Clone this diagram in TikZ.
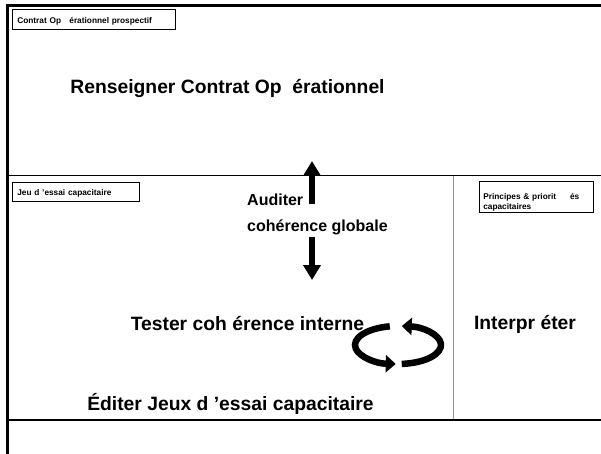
\documentclass[tikz,border=0pt]{standalone}
\usepackage{fontspec}
\setmainfont{Liberation Sans}
\usetikzlibrary{arrows.meta}
\tikzset{
  frameline/.style={line width=2.2pt, line cap=rect},
  thinline/.style={line width=1.3pt},
  grayline/.style={line width=1.8pt, draw=gray!85},
  tagbox/.style={draw=black, line width=0.6pt, inner sep=0pt, anchor=north west, font=\fontsize{8.3}{9.3}\selectfont\bfseries, align=left, text depth=0pt},
  bigtext/.style={font=\fontsize{19.3}{22}\selectfont\bfseries, inner sep=0pt},
  midtext/.style={font=\fontsize{16}{26}\selectfont\bfseries, inner sep=0pt, align=left},
  blockarrow/.style={line width=6pt, -{Triangle[length=15pt,width=17pt]}},
  cyclearrow/.style={line width=6.5pt, -{Triangle[length=10pt,width=17pt]}}
}
\begin{document}
\begin{tikzpicture}[x=1pt,y=-1pt]
\useasboundingbox (0,0) rectangle (601,454);
% frame
\coordinate (tl) at (7.5,5.5);
\coordinate (tr) at (601,5.5);
\coordinate (bl) at (7.5,454);
\coordinate (ml) at (7.5,175.5);
\coordinate (mr) at (601,175.5);
\coordinate (ll) at (7.5,420);
\coordinate (lr) at (601,420);
\coordinate (gt) at (453.5,175.5);
\coordinate (gb) at (453.5,420);
\draw[grayline] (gt) -- (gb);
\draw[thinline] (ml) -- (mr);
\draw[thinline] (ll) -- (lr);
\draw[frameline] (tr) -- (tl) -- (bl);
% tag boxes
\node[tagbox, minimum width=163pt, minimum height=20pt, text width=153pt, inner xsep=5pt] (tagA) at (12,9.5) {\strut Contrat Op\ \ \ érationnel prospectif};
\node[tagbox, minimum width=127pt, minimum height=19pt, text width=117pt, inner xsep=5pt] (tagB) at (12,182) {\strut Jeu d 'essai capacitaire};
\node[tagbox, minimum width=114pt, minimum height=31pt, text width=106pt, inner xsep=4pt, inner ysep=3pt] (tagC) at (479,181) {Principes \& priorit\ \ \ \ \ és\\capacitaires};
% main texts
\node[bigtext] (t1) at (227.5,88) {Renseigner Contrat Op\ \ érationnel};
\node[midtext, anchor=west] (t2) at (247,214) {Auditer\\cohérence globale};
\node[bigtext] (t3) at (247.5,324) {Tester coh\ érence interne};
\node[bigtext] (t4) at (525,324) {Interpr\ éter};
\node[bigtext] (t5) at (230.5,404) {Éditer Jeux d 'essai capacitaire};
% vertical arrows
\coordinate (ua) at (312,204);
\coordinate (ub) at (312,161);
\coordinate (da) at (312,237);
\coordinate (db) at (312,280);
\draw[blockarrow] (ua) -- (ub);
\draw[blockarrow] (da) -- (db);
% cycle arrows
\coordinate (cc) at (398,345);
\draw[cyclearrow] ([shift={(101:43pt and 19pt)}]cc) arc[start angle=101, end angle=267, x radius=43pt, y radius=19pt];
\draw[cyclearrow] ([shift={(275:43pt and 19pt)}]cc) arc[start angle=275, end angle=445, x radius=43pt, y radius=19pt];
\end{tikzpicture}
\end{document}
